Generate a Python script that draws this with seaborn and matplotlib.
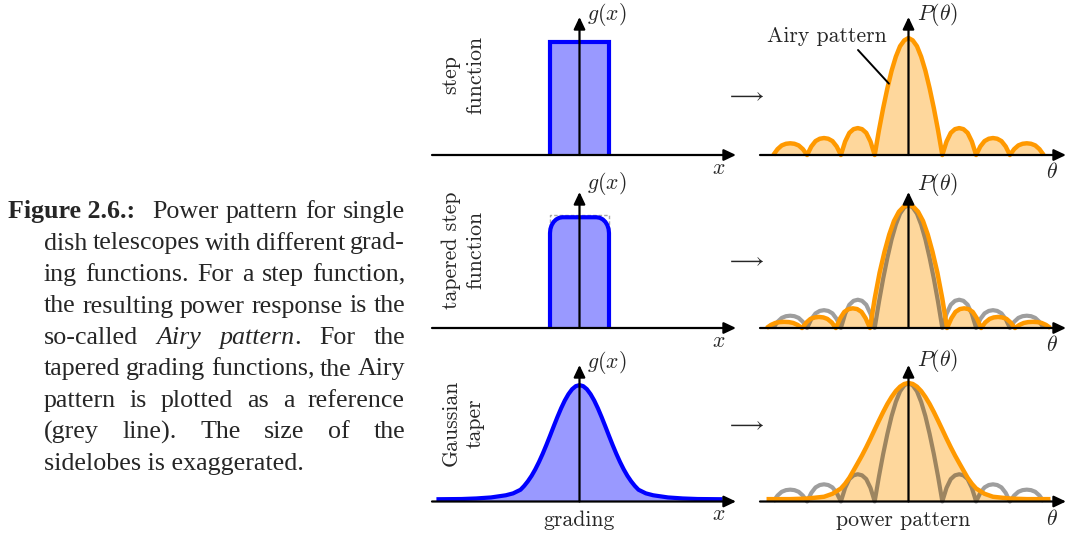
import matplotlib
matplotlib.use("Agg")
import matplotlib.pyplot as plt
import seaborn as sns

W, H = 1069, 536

# ---------------- grading functions g(x)  (dish half-width = 1) ----------------
step_x = [-1, -1, 1, 1]
step_y = [0, 1, 1, 0]

# outline of the plain step, shown dashed behind the tapered one
step_ref_x = [-1, -1, 1, 1]
step_ref_y = [0, 1.0, 1.0, 0]

taper_x = [-1, -1, -0.986, -0.944, -0.877, -0.79, -0.689, -0.58,
           0.58, 0.689, 0.79, 0.877, 0.944, 0.986, 1, 1]
taper_y = [0, 0.84, 0.876, 0.91, 0.939, 0.961, 0.975, 0.98,
           0.98, 0.975, 0.961, 0.939, 0.91, 0.876, 0.84, 0]

gauss_x = [-4.85, -4.0, -3.5, -3.0, -2.5, -2.25, -2.0, -1.875, -1.75, -1.625, -1.5, -1.375,
           -1.25, -1.125, -1.0, -0.875, -0.75, -0.625, -0.5, -0.375, -0.25, -0.125, 0,
           0.125, 0.25, 0.375, 0.5, 0.625, 0.75, 0.875, 1.0, 1.125, 1.25, 1.375, 1.5,
           1.625, 1.75, 1.875, 2.0, 2.25, 2.5, 3.0, 3.5, 4.0, 4.85]
gauss_y = [0.02, 0.022, 0.027, 0.036, 0.055, 0.072, 0.104, 0.138, 0.179, 0.227, 0.284, 0.349,
           0.421, 0.499, 0.581, 0.665, 0.747, 0.824, 0.893, 0.950, 0.994, 1.021, 1.03,
           1.021, 0.994, 0.950, 0.893, 0.824, 0.747, 0.665, 0.581, 0.499, 0.421, 0.349, 0.284,
           0.227, 0.179, 0.138, 0.104, 0.072, 0.055, 0.036, 0.027, 0.022, 0.02]

# ---------------- power patterns P(theta)  (first Airy null = 1) ----------------
airy_theta = [-4, -3.875, -3.75, -3.625, -3.5, -3.375, -3.25, -3.125,
              -3, -2.875, -2.75, -2.625, -2.5, -2.375, -2.25, -2.125,
              -2, -1.875, -1.75, -1.625, -1.5, -1.375, -1.25, -1.125,
              -1, -0.875, -0.75, -0.625, -0.5, -0.375, -0.25, -0.125,
              0, 0.125, 0.25, 0.375, 0.5, 0.625, 0.75, 0.875,
              1, 1.125, 1.25, 1.375, 1.5, 1.625, 1.75, 1.875,
              2, 2.125, 2.25, 2.375, 2.5, 2.625, 2.75, 2.875,
              3, 3.125, 3.25, 3.375, 3.5, 3.625, 3.75, 3.875, 4]
airy_power = [0, 0.05, 0.082, 0.096, 0.10, 0.096, 0.082, 0.05,
              0, 0.073, 0.119, 0.139, 0.145, 0.139, 0.119, 0.073,
              0, 0.115, 0.189, 0.221, 0.23, 0.221, 0.189, 0.115,
              0, 0.21, 0.40, 0.57, 0.72, 0.84, 0.93, 0.98,
              1.0, 0.98, 0.93, 0.84, 0.72, 0.57, 0.40, 0.21,
              0, 0.115, 0.189, 0.221, 0.23, 0.221, 0.189, 0.115,
              0, 0.073, 0.119, 0.139, 0.145, 0.139, 0.119, 0.073,
              0, 0.05, 0.082, 0.096, 0.10, 0.096, 0.082, 0.05, 0]

taper_theta = [-4.2, -4.07, -3.94, -3.81, -3.68, -3.54, -3.41, -3.28,
               -3.15, -3.02, -2.9, -2.77, -2.65, -2.52, -2.4, -2.27,
               -2.15, -2.02, -1.9, -1.77, -1.65, -1.52, -1.39, -1.27,
               -1.14, -1.0, -0.855, -0.71, -0.57, -0.43, -0.285, -0.14,
               0, 0.14, 0.285, 0.43, 0.57, 0.71, 0.855, 1.0,
               1.14, 1.27, 1.39, 1.52, 1.65, 1.77, 1.9, 2.02,
               2.15, 2.27, 2.4, 2.52, 2.65, 2.77, 2.9, 3.02,
               3.15, 3.28, 3.41, 3.54, 3.68, 3.81, 3.94, 4.07, 4.2]
taper_power = [0, 0.025, 0.041, 0.048, 0.05, 0.048, 0.041, 0.025,
               0, 0.045, 0.074, 0.086, 0.09, 0.086, 0.074, 0.045,
               0, 0.08, 0.131, 0.154, 0.16, 0.154, 0.131, 0.08,
               0, 0.24, 0.45, 0.62, 0.76, 0.87, 0.945, 0.987,
               1.0, 0.987, 0.945, 0.87, 0.76, 0.62, 0.45, 0.24,
               0, 0.08, 0.131, 0.154, 0.16, 0.154, 0.131, 0.08,
               0, 0.045, 0.074, 0.086, 0.09, 0.086, 0.074, 0.045,
               0, 0.025, 0.041, 0.048, 0.05, 0.048, 0.041, 0.025, 0]

gbeam_theta = [-4.2, -3.5, -3.0, -2.5, -2.25, -2.0, -1.875, -1.75, -1.625, -1.5, -1.375, -1.25,
               -1.125, -1.0, -0.875, -0.75, -0.625, -0.5, -0.375, -0.25, -0.125, 0,
               0.125, 0.25, 0.375, 0.5, 0.625, 0.75, 0.875, 1.0, 1.125, 1.25, 1.375, 1.5,
               1.625, 1.75, 1.875, 2.0, 2.25, 2.5, 3.0, 3.5, 4.2]
gbeam_power = [0.02, 0.02, 0.025, 0.04, 0.065, 0.11, 0.15, 0.20, 0.262, 0.325, 0.389, 0.458,
               0.531, 0.607, 0.682, 0.755, 0.823, 0.882, 0.932, 0.969, 0.992, 1.0,
               0.992, 0.969, 0.932, 0.882, 0.823, 0.755, 0.682, 0.607, 0.531, 0.458, 0.389, 0.325,
               0.262, 0.20, 0.15, 0.11, 0.065, 0.04, 0.025, 0.02, 0.02]

row_labels = ["step\nfunction", "tapered step\nfunction", "Gaussian\ntaper"]

caption_lines = [
    ["dish", "telescopes", "with", "different", "grad-"],
    ["ing", "functions.", "For", "a", "step", "function,"],
    ["the", "resulting", "power", "response", "is", "the"],
    ["so-called", "*Airy", "*pattern|.", "For", "the"],
    ["tapered", "grading", "functions,", "the", "Airy"],
    ["pattern", "is", "plotted", "as", "a", "reference"],
    ["(grey", "line).", "The", "size", "of", "the"],
]
caption_first = ["Power", "pattern", "for", "single"]
caption_last = "sidelobes is exaggerated."

# ---------------- style ----------------
sns.set_theme(style="white")
plt.rcParams["font.family"] = ["cmr10", "DejaVu Serif"]
plt.rcParams["mathtext.fontset"] = "cm"
plt.rcParams["axes.formatter.use_mathtext"] = True

BLUE, BLUE_FILL = "#0000ff", "#9999ff"
ORANGE, ORANGE_FILL = "#ff9900", "#fed79c"
FS = 15.7

fig = plt.figure(figsize=(W / 100, H / 100), dpi=100)


def fx(x):
    return x / W


def fy(y):
    return 1 - y / H


def panel(x0, x1, top, bottom, cx, base, sx, sy):
    ax = fig.add_axes([fx(x0), fy(bottom), (x1 - x0) / W, (bottom - top) / H])
    ax.set_xlim((x0 - cx) / sx, (x1 - cx) / sx)
    ax.set_ylim((base - bottom) / sy, (base - top) / sy)
    ax.set_axis_off()
    return ax


def axis_arrows(ax, cx, base, sx, sy, hx0, hx1, tip):
    style = "-|>,head_length=0.8,head_width=0.38"
    kw = dict(arrowstyle=style, lw=1.6, color="black", shrinkA=0, shrinkB=0,
              mutation_scale=9)
    ax.annotate("", xy=((hx1 - cx) / sx, 0), xytext=((hx0 - cx) / sx, 0),
                arrowprops=kw, annotation_clip=False, zorder=6)
    ax.annotate("", xy=(0, (base - tip) / sy), xytext=(0, 0),
                arrowprops=kw, annotation_clip=False, zorder=6)


def curve(ax, x, y, color, lw=3.0, alpha=1.0, z=3, join="round"):
    sns.lineplot(x=x, y=y, ax=ax, color=color, lw=lw, alpha=alpha, sort=False,
                 estimator=None, zorder=z, clip_on=False,
                 solid_joinstyle=join, solid_capstyle="butt")


L_CX, L_SX, L_SY = 579.5, 29.5, 113.0
R_CX, R_SX = 908.5, 33.8
bases = [155, 328, 501.5]
tips = [17, 192, 365]
right_sy = [117.0, 123.0, 118.5]

left_axes, right_axes = [], []
for i in range(3):
    b = bases[i]
    la = panel(425, 745, tips[i] - 8, b + 12, L_CX, b, L_SX, L_SY)
    axis_arrows(la, L_CX, b, L_SX, L_SY, 432, 736, tips[i])
    ra = panel(755, 1068, tips[i] - 8, b + 12, R_CX, b, R_SX, right_sy[i])
    axis_arrows(ra, R_CX, b, R_SX, right_sy[i], 760, 1066, tips[i])
    left_axes.append(la)
    right_axes.append(ra)

# row 1: step function -> Airy pattern
ax = left_axes[0]
ax.fill(step_x, step_y, color=BLUE_FILL, lw=0, zorder=1)
curve(ax, step_x, step_y, BLUE, join="miter")
ax = right_axes[0]
ax.fill_between(airy_theta, airy_power, 0, color=ORANGE_FILL, lw=0, zorder=1)
curve(ax, airy_theta, airy_power, ORANGE, lw=3.2)
lab_x, lab_y = (827 - R_CX) / R_SX, (155 - 36) / right_sy[0]
ax.text(lab_x, lab_y, "Airy pattern", ha="center", va="center", fontsize=FS)
ax.plot([(858 - R_CX) / R_SX, -0.58], [(155 - 50) / right_sy[0], 0.61],
        color="black", lw=1.4, zorder=5, clip_on=False)

# row 2: tapered step -> tapered pattern
ax = left_axes[1]
sns.lineplot(x=step_ref_x, y=step_ref_y, ax=ax, color="#a8a8a8", lw=1.0, sort=False,
             estimator=None, zorder=0.5, dashes=False, linestyle=(0, (2.5, 1.5)), clip_on=False)
ax.fill(taper_x, taper_y, color=BLUE_FILL, lw=0, zorder=1)
curve(ax, taper_x, taper_y, BLUE)
ax = right_axes[1]
ax.fill_between(taper_theta, taper_power, 0, color=ORANGE_FILL, lw=0, zorder=1)
curve(ax, airy_theta, airy_power, "black", lw=3.0, alpha=0.38, z=2)
curve(ax, taper_theta, taper_power, ORANGE, lw=3.2)

# row 3: Gaussian taper -> Gaussian beam
ax = left_axes[2]
ax.fill_between(gauss_x, gauss_y, 0, color=BLUE_FILL, lw=0, zorder=1)
curve(ax, gauss_x, gauss_y, BLUE)
ax = right_axes[2]
ax.fill_between(gbeam_theta, gbeam_power, 0, color=ORANGE_FILL, lw=0, zorder=1)
curve(ax, airy_theta, airy_power, "black", lw=3.0, alpha=0.38, z=2)
curve(ax, gbeam_theta, gbeam_power, ORANGE, lw=3.2)

# ---------------- labels ----------------
gx_y = [15, 183, 363]
px_y = [15, 185, 361]
xl_y = [168, 341, 514]
th_y = [172, 345, 519]
arrow_y = [95, 260, 424]
row_lab_y = [75, 250, 423]
for i in range(3):
    fig.text(fx(587), fy(gx_y[i]), r"$g(x)$", fontsize=FS, ha="left", va="center")
    fig.text(fx(719), fy(xl_y[i]), r"$x$", fontsize=FS, ha="center", va="center")
    fig.text(fx(917), fy(px_y[i]), r"$P(\theta)$", fontsize=FS, ha="left", va="center")
    fig.text(fx(1052), fy(th_y[i]), r"$\theta$", fontsize=FS, ha="center", va="center")
    fig.text(fx(745), fy(arrow_y[i]), r"$\longrightarrow$", fontsize=FS, ha="center", va="center")
    fig.text(fx(463), fy(row_lab_y[i]), row_labels[i], fontsize=FS, rotation=90,
             ha="center", va="center", multialignment="center", linespacing=1.3)

fig.text(fx(579), fy(520), "grading", fontsize=FS, ha="center", va="center")
fig.text(fx(903), fy(520), "power pattern", fontsize=FS, ha="center", va="center")

# ---------------- caption (justified, hanging indent) ----------------
CAP = dict(family=["Liberation Serif", "DejaVu Serif"], fontsize=18.7)
renderer = fig.canvas.get_renderer()


def word_runs(w):
    style = "normal"
    if w.startswith("*"):
        style = "italic"
        w = w[1:]
    if "|" in w:
        a, b = w.split("|")
        return [(a, style), (b, "normal")]
    return [(w, style)]


def place_word(runs, x, base_y):
    for txt, style in runs:
        t = fig.text(fx(x), fy(base_y), txt, style=style, ha="left", va="baseline", **CAP)
        x += t.get_window_extent(renderer).width


def measure(runs):
    total = 0.0
    for txt, style in runs:
        t = fig.text(0, 0, txt, style=style, **CAP)
        total += t.get_window_extent(renderer).width
        t.remove()
    return total


def justify(words, x0, x1, base_y):
    runs = [word_runs(w) for w in words]
    widths = [measure(r) for r in runs]
    gap = (x1 - x0 - sum(widths)) / (len(words) - 1)
    x = x0
    for r, w in zip(runs, widths):
        place_word(r, x, base_y)
        x += w + gap


BASE0, LEAD = 218, 31.5
fig.text(fx(8), fy(BASE0), "Figure 2.6.:", weight="bold", ha="left", va="baseline", **CAP)
justify(caption_first, 152, 405, BASE0)
for k, line in enumerate(caption_lines):
    justify(line, 44, 405, BASE0 + LEAD * (k + 1))
fig.text(fx(44), fy(BASE0 + LEAD * 8), caption_last, ha="left", va="baseline", **CAP)

fig.savefig("out.png", dpi=100)
